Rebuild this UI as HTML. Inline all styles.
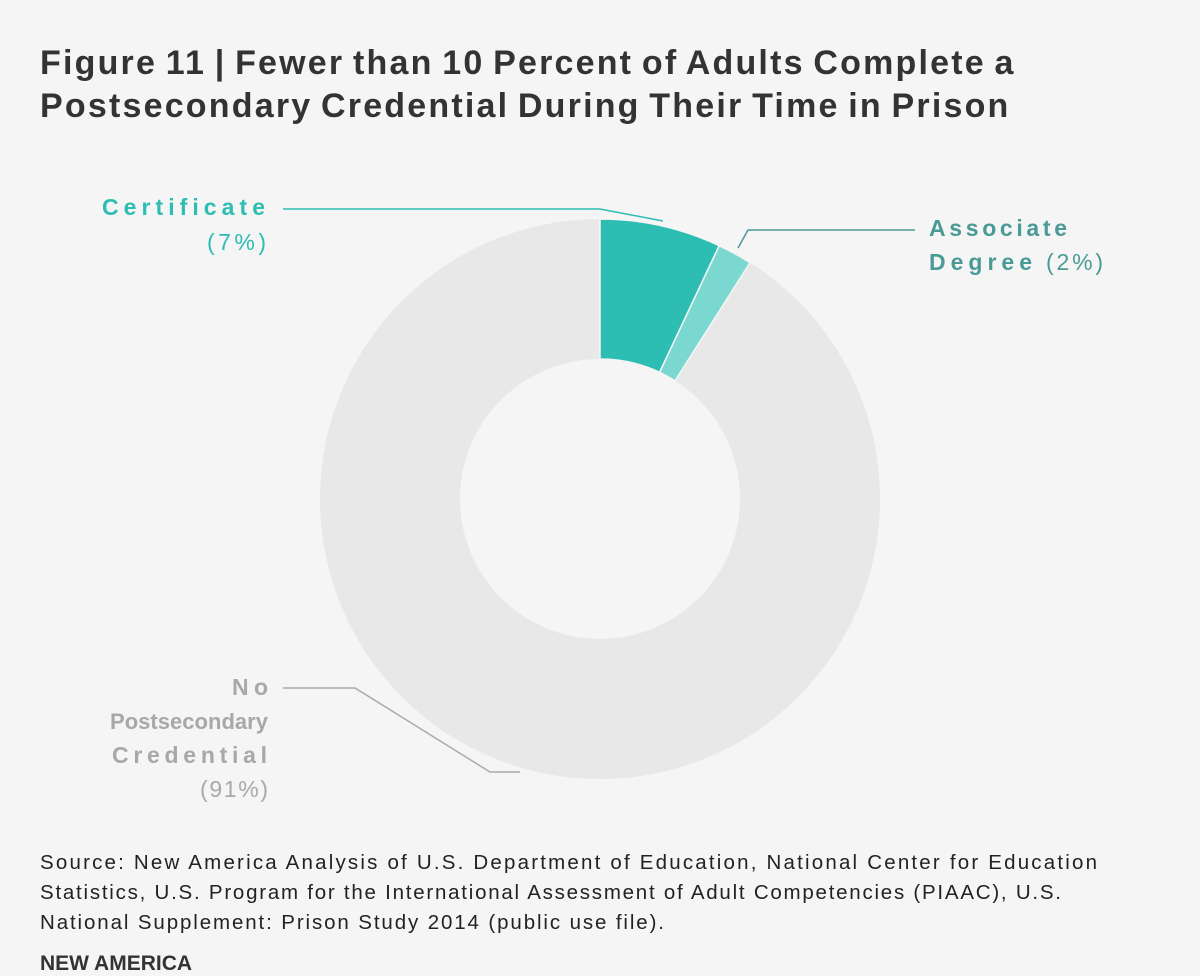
<!DOCTYPE html>
<html><head><style>
body{margin:0;width:1200px;height:976px;background:#f5f5f5;font-family:"Liberation Sans",sans-serif;position:relative;overflow:hidden}
.t{position:absolute;left:40px;top:42px;font-size:34px;font-weight:bold;color:#333;line-height:43px;letter-spacing:2.2px;word-spacing:-3px}
.na{position:absolute;left:40px;top:952px;font-size:21px;font-weight:bold;color:#333}
</style></head><body>
<div class="t">Figure 11 | Fewer than 10 Percent of Adults Complete a<br>Postsecondary Credential During Their Time in Prison</div>
<svg width="1200" height="976" style="position:absolute;left:0;top:0" font-family="Liberation Sans, sans-serif">
<circle cx="600" cy="499" r="210" fill="none" stroke="#e8e8e8" stroke-width="140"/>
<path d="M600,219 A280,280 0 0,1 719.2,245.7 L659.6,372.3 A140,140 0 0,0 600,359 Z" fill="#2ebdb2" stroke="#f5f5f5" stroke-width="1.5"/>
<path d="M719.2,245.7 A280,280 0 0,1 750,262.6 L675,380.8 A140,140 0 0,0 659.6,372.3 Z" fill="#7ad8d0" stroke="#f5f5f5" stroke-width="1.5"/>
<polyline points="283,209 600,209 663,221" fill="none" stroke="#2ebdb2" stroke-width="1.5"/>
<polyline points="738,248 748,230 915,230" fill="none" stroke="#4a9a96" stroke-width="1.5"/>
<polyline points="283,688 355,688 490,772 520,772" fill="none" stroke="#aaa" stroke-width="1.5"/>
<g font-size="23" font-weight="bold">
<text x="102" y="215" textLength="163" lengthAdjust="spacing" fill="#2ebdb2">Certificate</text>
<text x="929" y="236" textLength="138" lengthAdjust="spacing" fill="#4a9a96">Associate</text>
<text x="929" y="270" textLength="103" lengthAdjust="spacing" fill="#4a9a96">Degree</text>
<text x="232" y="695" textLength="36" lengthAdjust="spacing" fill="#a8a8a8">No</text>
<text x="110" y="729" font-size="22" textLength="158" lengthAdjust="spacing" fill="#a8a8a8">Postsecondary</text>
<text x="112" y="763" textLength="155" lengthAdjust="spacing" fill="#a8a8a8">Credential</text>
</g>
<g font-size="23">
<text x="207" y="250" textLength="59" lengthAdjust="spacing" fill="#2ebdb2">(7%)</text>
<text x="1046" y="270" textLength="57" lengthAdjust="spacing" fill="#4a9a96">(2%)</text>
<text x="200" y="797" textLength="68" lengthAdjust="spacing" fill="#a8a8a8">(91%)</text>
</g>
<g font-size="20.5" fill="#222">
<text x="40" y="869" textLength="1057" lengthAdjust="spacing">Source: New America Analysis of U.S. Department of Education, National Center for Education</text>
<text x="40" y="899" textLength="1021" lengthAdjust="spacing">Statistics, U.S. Program for the International Assessment of Adult Competencies (PIAAC), U.S.</text>
<text x="40" y="929" textLength="624" lengthAdjust="spacing">National Supplement: Prison Study 2014 (public use file).</text>
</g>
</svg>
<div class="na">NEW AMERICA</div>
</body></html>
